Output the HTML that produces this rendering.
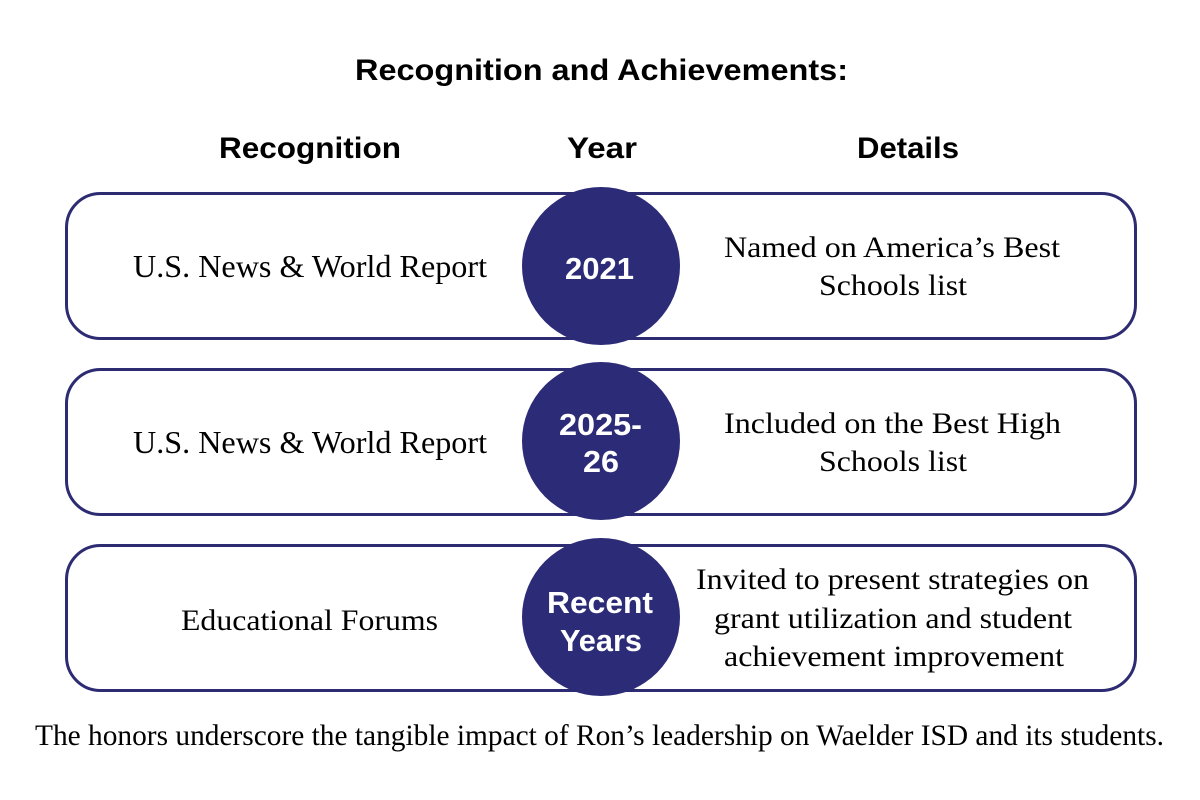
<!DOCTYPE html>
<html>
<head>
<meta charset="utf-8">
<style>
  html, body { margin: 0; padding: 0; background: #ffffff; }
  body { width: 1200px; height: 800px; overflow: hidden; }
  svg { display: block; }
  .hdr { font-family: "Liberation Sans", "DejaVu Sans", sans-serif; font-weight: bold; fill: #000; }
  .ser { font-family: "Liberation Serif", "DejaVu Serif", serif; fill: #000; }
  .yr { font-family: "Liberation Sans", "DejaVu Sans", sans-serif; font-weight: bold; fill: #ffffff; }
</style>
</head>
<body>
<svg width="1200" height="800" viewBox="0 0 1200 800" xmlns="http://www.w3.org/2000/svg">
  <rect x="0" y="0" width="1200" height="800" fill="#ffffff"/>

  <!-- Title -->
  <text class="hdr" x="355" y="80" font-size="30" textLength="493" lengthAdjust="spacingAndGlyphs">Recognition and Achievements:</text>

  <!-- Column headers -->
  <text class="hdr" x="219" y="158" font-size="30" textLength="182" lengthAdjust="spacingAndGlyphs">Recognition</text>
  <text class="hdr" x="567" y="158" font-size="30" textLength="70" lengthAdjust="spacingAndGlyphs">Year</text>
  <text class="hdr" x="857" y="158" font-size="30" textLength="102" lengthAdjust="spacingAndGlyphs">Details</text>

  <!-- Row boxes -->
  <rect x="66.5" y="193.5" width="1069" height="145" rx="34" ry="34" fill="#ffffff" stroke="#2d2b72" stroke-width="3"/>
  <rect x="66.5" y="369.5" width="1069" height="145" rx="34" ry="34" fill="#ffffff" stroke="#2d2b72" stroke-width="3"/>
  <rect x="66.5" y="545.5" width="1069" height="145" rx="34" ry="34" fill="#ffffff" stroke="#2d2b72" stroke-width="3"/>

  <!-- Circles -->
  <circle cx="601" cy="266" r="79" fill="#2c2b77"/>
  <circle cx="601" cy="441" r="79" fill="#2c2b77"/>
  <circle cx="601" cy="617" r="79" fill="#2c2b77"/>

  <!-- Row 1 -->
  <text class="ser" x="133" y="277" font-size="32" textLength="354" lengthAdjust="spacingAndGlyphs">U.S. News &amp; World Report</text>
  <text class="yr" x="565" y="279" font-size="31" textLength="69" lengthAdjust="spacingAndGlyphs">2021</text>
  <text class="ser" x="724" y="257" font-size="30" textLength="336" lengthAdjust="spacingAndGlyphs">Named on America’s Best</text>
  <text class="ser" x="819" y="295" font-size="30" textLength="148" lengthAdjust="spacingAndGlyphs">Schools list</text>

  <!-- Row 2 -->
  <text class="ser" x="133" y="453" font-size="32" textLength="354" lengthAdjust="spacingAndGlyphs">U.S. News &amp; World Report</text>
  <text class="yr" x="559" y="435" font-size="31" textLength="83" lengthAdjust="spacingAndGlyphs">2025-</text>
  <text class="yr" x="583" y="472" font-size="31" textLength="36" lengthAdjust="spacingAndGlyphs">26</text>
  <text class="ser" x="724" y="433" font-size="30" textLength="337" lengthAdjust="spacingAndGlyphs">Included on the Best High</text>
  <text class="ser" x="819" y="471" font-size="30" textLength="148" lengthAdjust="spacingAndGlyphs">Schools list</text>

  <!-- Row 3 -->
  <text class="ser" x="181" y="630" font-size="30" textLength="257" lengthAdjust="spacingAndGlyphs">Educational Forums</text>
  <text class="yr" x="547" y="613" font-size="31" textLength="106" lengthAdjust="spacingAndGlyphs">Recent</text>
  <text class="yr" x="560" y="651" font-size="31" textLength="82" lengthAdjust="spacingAndGlyphs">Years</text>
  <text class="ser" x="696" y="589" font-size="30" textLength="393" lengthAdjust="spacingAndGlyphs">Invited to present strategies on</text>
  <text class="ser" x="714" y="628" font-size="30" textLength="358" lengthAdjust="spacingAndGlyphs">grant utilization and student</text>
  <text class="ser" x="724" y="666" font-size="30" textLength="340" lengthAdjust="spacingAndGlyphs">achievement improvement</text>

  <!-- Footer -->
  <text class="ser" x="35" y="745" font-size="30" textLength="1129" lengthAdjust="spacingAndGlyphs">The honors underscore the tangible impact of Ron’s leadership on Waelder ISD and its students.</text>
</svg>
</body>
</html>
